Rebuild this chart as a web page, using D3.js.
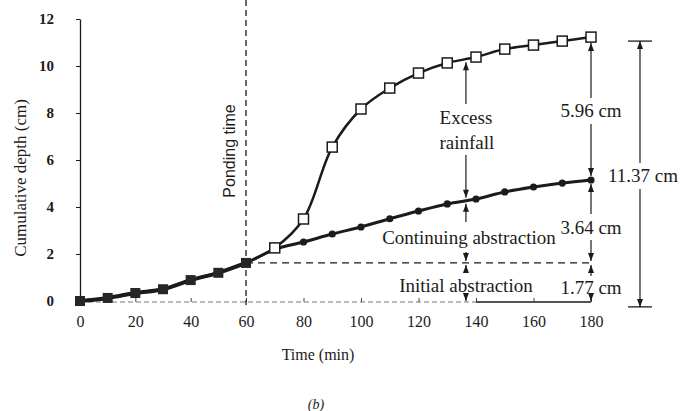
<!DOCTYPE html>
<html><head><meta charset="utf-8">
<script src="https://cdn.jsdelivr.net/npm/d3@7"></script>
<style>body{margin:0;background:#fff}svg{display:block}</style>
</head><body><svg id="c" width="682" height="411"></svg>
<script>
// ---- data ----
const times = [0,10,20,30,40,50,60,70,80,90,100,110,120,130,140,150,160,170,180];
const rainfall = [0,0.13,0.34,0.5,0.89,1.2,1.62,2.26,3.49,6.55,8.17,9.06,9.7,10.13,10.38,10.72,10.89,11.06,11.23];
const abstraction = [0,0.13,0.34,0.5,0.89,1.2,1.62,2.2,2.51,2.85,3.15,3.5,3.83,4.13,4.34,4.64,4.85,5.02,5.15];
const xTicks = [0,20,40,60,80,100,120,140,160,180];
const yTicks = [0,2,4,6,8,10,12];
const pondingTime = 60;
const annotTime = 136.5;
const endTime = 180;
const componentLabels = ["5.96 cm","3.64 cm","1.77 cm"];
const totalLabel = "11.37 cm";
const leftLabels = [["Excess","rainfall"],["Continuing abstraction"],["Initial abstraction"]];

const svg = d3.select("#c");
const x = d3.scaleLinear().domain([0,60,180]).range([80,246,591]);
const y = d3.scaleLinear().domain([0,12]).range([301,19]);
const ink = "#1b1b1b";
const serif = "'Liberation Serif','Times New Roman',serif";

function at(arr,t){const i=Math.min(Math.floor(t/10),arr.length-2);const f=(t-times[i])/10;return arr[i]+(arr[i+1]-arr[i])*f;}
const pondIdx = times.indexOf(pondingTime);
const initLevel = rainfall[pondIdx];

// ---- axes ----
const yAx = svg.append("g").attr("transform",`translate(${x(0)},0)`)
  .call(d3.axisLeft(y).tickValues(yTicks).tickSize(4).tickSizeOuter(0).tickPadding(22));
yAx.select(".domain").attr("stroke",ink).attr("stroke-width",1.3);
yAx.selectAll(".tick line").attr("stroke",ink);
yAx.selectAll("text").attr("font-family",serif).attr("font-size",15).attr("font-weight","bold").attr("fill",ink);

const xAx = svg.append("g").attr("transform",`translate(0,${y(0)+1})`)
  .call(d3.axisBottom(x).tickValues(xTicks).tickSize(-4).tickSizeOuter(0).tickPadding(14));
xAx.select(".domain").remove();
xAx.selectAll(".tick line").attr("stroke","#444");
xAx.selectAll("text").attr("font-family",serif).attr("font-size",16).attr("fill",ink);
xAx.append("line").attr("x1",x(0)).attr("x2",x(140)).attr("y1",0).attr("y2",0)
  .attr("stroke","#777").attr("stroke-width",1).attr("stroke-dasharray","5,3");
xAx.append("line").attr("x1",x(140)).attr("x2",x(180)).attr("y1",0).attr("y2",0)
  .attr("stroke",ink).attr("stroke-width",1.3);

svg.append("text").attr("x",318).attr("y",360).attr("text-anchor","middle")
  .attr("font-family",serif).attr("font-size",16).attr("fill",ink).text("Time (min)");
svg.append("text").attr("transform","translate(26,178) rotate(-90)").attr("text-anchor","middle")
  .attr("font-family",serif).attr("font-size",17).attr("fill",ink).text("Cumulative depth (cm)");
svg.append("text").attr("x",316).attr("y",409).attr("text-anchor","middle")
  .attr("font-family",serif).attr("font-size",14).attr("font-style","italic").attr("fill",ink).text("(b)");

// ---- ponding guides ----
svg.append("line").attr("x1",x(pondingTime)).attr("x2",x(pondingTime)).attr("y1",0).attr("y2",y(0)+4)
  .attr("stroke",ink).attr("stroke-width",1.3).attr("stroke-dasharray","6,4");
svg.append("line").attr("x1",x(pondingTime)).attr("x2",x(endTime)).attr("y1",y(initLevel)).attr("y2",y(initLevel))
  .attr("stroke",ink).attr("stroke-width",1.3).attr("stroke-dasharray","7,5");
svg.append("text").attr("transform",`translate(${x(pondingTime)-11},151) rotate(-90)`).attr("text-anchor","middle")
  .attr("font-family","'Liberation Sans',Arial,sans-serif").attr("font-size",16).attr("fill",ink).text("Ponding time");

// ---- curves ----
const rows = times.map((t,i)=>({t,r:rainfall[i],a:abstraction[i]}));
const line = k => d3.line().x(d=>x(d.t)).y(d=>y(d[k])).curve(d3.curveCatmullRom.alpha(0.5));
svg.append("path").datum(rows).attr("d",line("a")).attr("fill","none").attr("stroke",ink).attr("stroke-width",3);
svg.append("path").datum(rows).attr("d",line("r")).attr("fill","none").attr("stroke",ink).attr("stroke-width",2.5);
svg.append("path").datum(rows.filter(d=>d.t<=pondingTime)).attr("d",line("r")).attr("fill","none").attr("stroke",ink).attr("stroke-width",4);

svg.selectAll(".circ").data(rows.filter(d=>d.t>pondingTime)).join("circle")
  .attr("cx",d=>x(d.t)).attr("cy",d=>y(d.a)).attr("r",3.6).attr("fill",ink);
svg.selectAll(".sqo").data(rows.filter(d=>d.t>pondingTime)).join("rect")
  .attr("x",d=>x(d.t)-5).attr("y",d=>y(d.r)-5).attr("width",10).attr("height",10)
  .attr("fill","#fff").attr("stroke",ink).attr("stroke-width",1.5);
svg.selectAll(".sqf").data(rows.filter(d=>d.t<=pondingTime)).join("rect")
  .attr("x",d=>x(d.t)-5).attr("y",d=>y(d.r)-5).attr("width",10).attr("height",10)
  .attr("fill","#262626");

// ---- annotations ----
function head(xp,tip,dir){ // dir -1 => points up, +1 => points down
  svg.append("path").attr("d",`M${xp},${tip}L${xp-3},${tip-dir*8}L${xp+3},${tip-dir*8}Z`).attr("fill",ink);
}
function seg(xp,y1,y2,g1,g2){
  svg.append("line").attr("x1",xp).attr("x2",xp).attr("y1",y1).attr("y2",g1).attr("stroke",ink).attr("stroke-width",1.2);
  svg.append("line").attr("x1",xp).attr("x2",xp).attr("y1",g2).attr("y2",y2).attr("stroke",ink).attr("stroke-width",1.2);
  head(xp,y1,-1); head(xp,y2,1);
}
function label(xp,yb,txt,size){
  svg.append("text").attr("x",xp).attr("y",yb).attr("text-anchor","middle")
    .attr("font-family",serif).attr("font-size",size||19).attr("fill",ink).text(txt);
}
const xa = x(annotTime);
const aTop = y(at(rainfall,annotTime))+3, aMid = y(at(abstraction,annotTime)), aLow = y(initLevel), aBot = y(0);
seg(xa,aTop,aMid-3,104,155);
label(xa,124,leftLabels[0][0]); label(xa+1,149,leftLabels[0][1]);
seg(xa,aMid+3,aLow-2,222,252);
label(xa+3,244,leftLabels[1][0]);
seg(xa,aLow+2,aBot,272,296);
label(xa,292,leftLabels[2][0]);

const xe = x(endTime), ie = times.indexOf(endTime);
const eTop = y(rainfall[ie])+6, eMid = y(abstraction[ie]), eLow = y(initLevel), eBot = y(0);
seg(xe,eTop,eMid-4,98,124);
label(xe,117,componentLabels[0]);
seg(xe,eMid+4,eLow-2,214,240);
label(xe,234,componentLabels[1]);
seg(xe,eLow+2,eBot,276,298);
label(xe,294,componentLabels[2]);

const xb = 640, bTop = y(11.06), bBot = y(-0.25);
svg.append("line").attr("x1",xb-12).attr("x2",xb+12).attr("y1",bTop).attr("y2",bTop).attr("stroke",ink).attr("stroke-width",1.3);
svg.append("line").attr("x1",xb-12).attr("x2",xb+12).attr("y1",bBot).attr("y2",bBot).attr("stroke",ink).attr("stroke-width",1.3);
seg(xb,bTop,bBot,163,189);
label(643,182,totalLabel);
</script></body></html>
